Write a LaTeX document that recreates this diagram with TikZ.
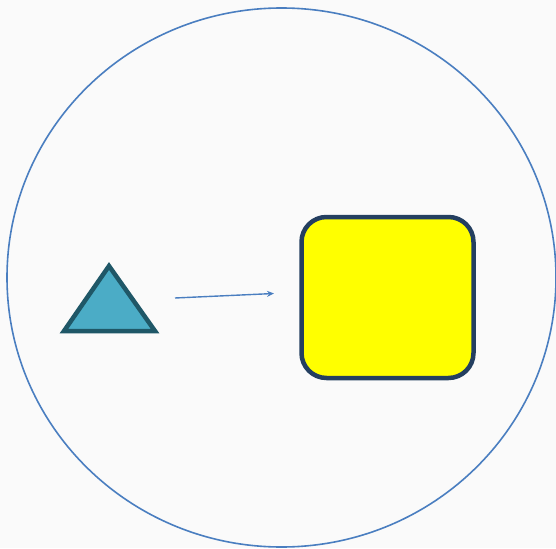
\documentclass[tikz,border=0pt]{standalone}
\usetikzlibrary{arrows.meta}
\definecolor{bgcol}{HTML}{FAFAFA}
\definecolor{circcol}{HTML}{4A7EC0}
\definecolor{trifill}{HTML}{4BACC6}
\definecolor{tridraw}{HTML}{1F5767}
\definecolor{boxfill}{HTML}{FFFF00}
\definecolor{boxdraw}{HTML}{243F60}
\definecolor{arrcol}{HTML}{4A7EC0}
\tikzset{
  outline/.style={draw=circcol, line width=1.6pt},
  tri/.style={fill=trifill, draw=tridraw, line width=4.5pt, line join=miter},
  roundbox/.style={fill=boxfill, draw=boxdraw, line width=4.5pt, rounded corners=25pt},
  link/.style={draw=arrcol, line width=1.4pt, -{Stealth[length=7pt,width=6pt]}}
}
\begin{document}
\begin{tikzpicture}[x=1pt,y=-1pt]
\useasboundingbox (0,0) rectangle (556,548);
\fill[bgcol] (0,0) rectangle (556,548);
\clip (0,0) rectangle (556,548);
\coordinate (cc) at (281.5,277.5);
\draw[outline] (cc) ellipse [x radius=274.5, y radius=269.5];
\coordinate (t1) at (109,266);
\coordinate (t2) at (64,331);
\coordinate (t3) at (155,331);
\path[tri] (t1) -- (t2) -- (t3) -- cycle;
\node[roundbox, minimum width=172pt, minimum height=161pt, inner sep=0pt] (box) at (387.5,297.5) {};
\coordinate (a1) at (175,298);
\coordinate (a2) at (274,293.5);
\draw[link] (a1) -- (a2);
\end{tikzpicture}
\end{document}
